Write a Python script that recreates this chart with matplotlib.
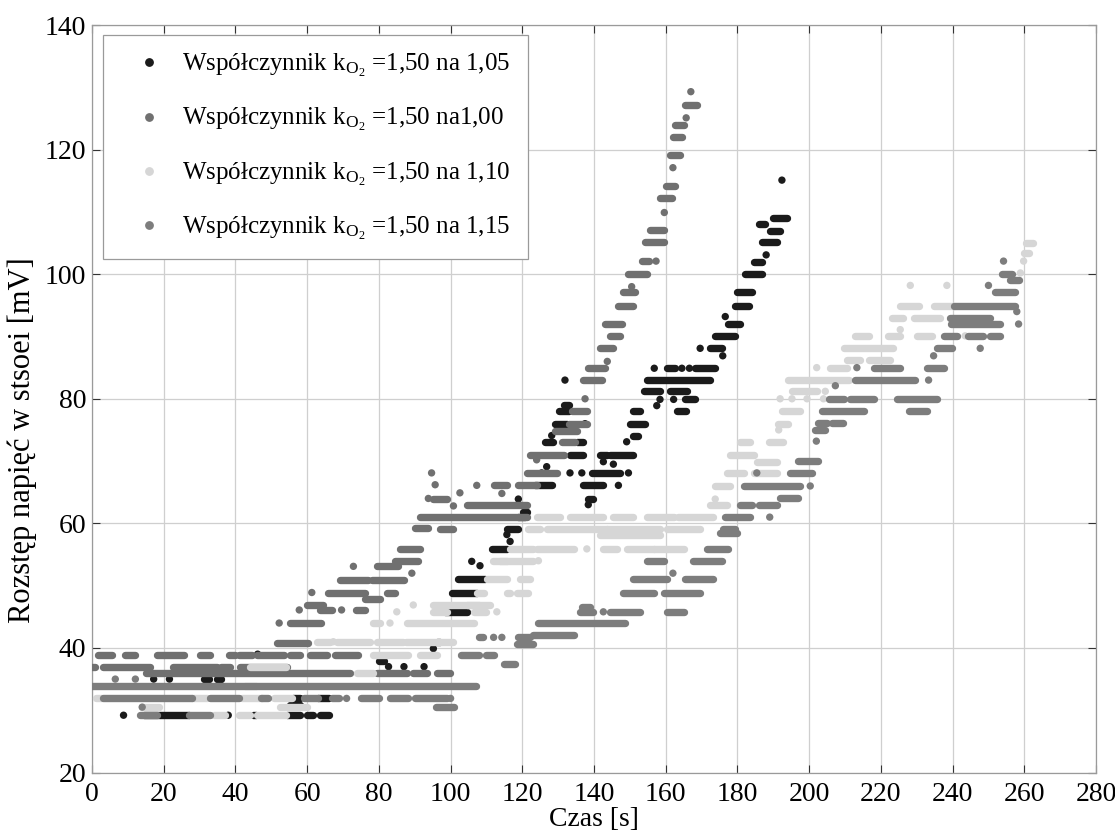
import matplotlib
matplotlib.use('Agg')
import matplotlib.pyplot as plt
from matplotlib.collections import LineCollection
from matplotlib.lines import Line2D

# ---------------- data: runs of consecutive samples (t_start [s], t_end [s], value [mV]) ----------------
series_names = ['Współczynnik $\\mathregular{k_{O_2}}$ =1,50 na 1,05',
                'Współczynnik $\\mathregular{k_{O_2}}$ =1,50 na1,00',
                'Współczynnik $\\mathregular{k_{O_2}}$ =1,50 na 1,10',
                'Współczynnik $\\mathregular{k_{O_2}}$ =1,50 na 1,15']

runs_105 = [
    (8.8, 8.8, 29.2), (14.5, 27, 29.2), (38, 38, 29.2), (44.8, 45.6, 29.2), (54.5, 58, 29.2),
    (59.9, 61.7, 29.2), (63.6, 66, 29.2), (55.2, 58, 30.8), (56, 58, 31.9), (63.1, 66, 31.9),
    (17.2, 17.2, 35.0), (21.6, 21.6, 35.0), (31.1, 32.5, 35.0), (35, 36, 35.0), (46.2, 46.2, 39.0),
    (79.9, 81.3, 37.9), (82.7, 82.7, 37.0), (87, 87, 37.0), (92.6, 92.6, 37.0),
    (95.2, 95.2, 39.9), (96.1, 97, 41.0), (98.5, 104.5, 45.8), (100.3, 107.3, 48.9),
    (102.2, 109.6, 51.1), (105.9, 105.9, 53.9), (108.2, 108.2, 53.2), (111.5, 115.7, 55.9),
    (116.6, 116.6, 57.1), (115.7, 115.7, 58.2), (115.7, 118.9, 59.1), (118.9, 120.8, 61.0),
    (120.3, 121.2, 61.9), (118.9, 118.9, 63.9), (123.6, 128.2, 66.1), (125.4, 125.4, 68.1),
    (126.8, 126.8, 69.1), (126.4, 128.7, 73.1), (128.2, 128.2, 74.1), (129.1, 132.4, 76.0),
    (130.1, 132.9, 78.0), (131.5, 132.9, 79.0), (131.9, 131.9, 83.0), (133.3, 137, 71.0),
    (135.2, 137, 73.1), (137.5, 137.5, 76.0), (133.3, 133.3, 68.1), (136.6, 136.6, 68.1),
    (136.9, 142.6, 66.1), (138.4, 139.8, 63.9), (138.4, 138.4, 63.0), (139.4, 147.3, 68.1),
    (141.7, 143.6, 71.0), (144.5, 151, 71.0), (142.6, 142.6, 69.9), (145.4, 145.4, 69.5),
    (146.8, 146.8, 66.1), (149.6, 149.6, 68.1), (149.1, 149.1, 73.1), (150.1, 154.3, 76.0),
    (151, 152.4, 74.1), (151, 152.9, 78.0), (153.8, 158.4, 81.2), (154.7, 172.4, 83.0),
    (156.8, 156.8, 84.9), (160.3, 162.6, 84.9), (164.5, 164.5, 84.9), (166.6, 166.6, 84.9),
    (168.2, 173.8, 84.9), (157.5, 157.5, 78.9), (158.4, 158.4, 79.9), (161.2, 165.9, 81.2),
    (162.2, 162.2, 79.9), (165.4, 168.2, 79.9), (163.1, 165.7, 78.0), (169.6, 169.6, 88.1),
    (172.4, 175.6, 88.1), (175.9, 175.9, 86.9), (173.8, 179.4, 90.1), (176.6, 176.6, 93.2),
    (177.5, 180.7, 92.0), (179.4, 183.1, 94.9), (179.8, 184, 97.1), (182.1, 186.8, 100.0),
    (184.5, 186.8, 102.0), (188, 188, 103.1), (186.8, 191, 105.1), (189.1, 191.9, 107.0),
    (185.9, 187.7, 108.1), (190, 193.8, 109.0), (192.4, 192.4, 115.1),
]

runs_100 = [
    (167.0, 167.0, 129.3), (165.4, 168.7, 127.2), (165.7, 165.7, 125.1), (162.7, 165.0, 124.0),
    (162.1, 164.5, 122.1), (161.2, 164.0, 119.2), (162.0, 162.0, 117.1), (160.0, 162.6, 114.1),
    (158.4, 161.7, 112.2), (159.6, 159.6, 109.9), (155.6, 159.4, 107.1), (154.3, 159.4, 105.1),
    (153.3, 155.2, 102.1), (157.3, 157.3, 102.1), (149.6, 154.7, 100.0), (148.1, 151.5, 97.2),
    (150.5, 150.5, 98.0), (146.8, 151, 94.9), (143.1, 147.7, 92.0), (144.5, 147.3, 90.1),
    (141.7, 145.4, 88.1), (143.7, 143.7, 86.0), (138.4, 143.1, 84.9), (137, 142.2, 83.0),
    (137.5, 137.5, 80.0), (133.8, 138, 78.0), (132.9, 138, 76.0), (131, 134.7, 73.1),
    (129.1, 135.2, 74.8), (122.2, 131.5, 71.0), (124, 124, 70.2), (121.2, 129.6, 68.1),
    (118.9, 124, 66.1), (112, 115.7, 66.1), (107.3, 107.3, 66.1), (102.6, 102.6, 64.9),
    (114.3, 114.3, 64.8), (95.2, 98.9, 63.9), (104.5, 121.2, 63.0), (91.5, 121.2, 61.0),
    (94.7, 94.7, 68.1), (95.7, 95.7, 66.2), (93.8, 93.8, 64.0), (90, 93.8, 59.2),
    (97, 100.8, 59.1), (100.8, 100.8, 62.8), (85.9, 91.5, 55.9), (84.5, 91, 53.9),
    (89.2, 89.2, 52.0), (72.9, 72.9, 53.1), (79.4, 85.4, 53.1), (69.2, 77.1, 50.9),
    (78, 87, 50.9), (65.9, 76.2, 48.9), (61.3, 61.3, 48.9), (82.2, 84.5, 48.9),
    (76.2, 80.3, 47.9), (59.9, 64.5, 46.9), (63.6, 66.8, 46.1), (57.8, 57.8, 46.1),
    (69.6, 69.6, 46.1), (73.5, 76.2, 46.1), (52.2, 52.2, 44.0), (55.2, 64, 44.0),
    (51.5, 60.3, 40.8),
    (1.7, 5.6, 38.9), (9.3, 12.1, 38.9), (18.1, 25.6, 38.9), (30.2, 33, 38.9), (38.1, 40, 38.9),
    (40.9, 44.6, 38.9), (46, 53.5, 38.9), (55.2, 58, 38.9), (60.8, 65.5, 38.9), (67.8, 74.3, 38.9),
    (0, 0.8, 37.0), (3.2, 16.2, 37.0), (22.7, 34.8, 37.0), (36, 38.5, 37.0), (41.3, 54.3, 37.0),
    (15.2, 72, 35.9), (79.4, 87.8, 35.9), (89.6, 93.3, 35.9), (96.1, 99.9, 35.9),
]

runs_110 = [
    (34, 37, 29.2), (41, 44, 29.2), (46, 54, 29.2), (14, 18.6, 30.6), (52.4, 60, 30.6),
    (1, 2.8, 31.9), (28, 32, 31.9), (41.8, 47.4, 31.9), (50.7, 55.8, 31.9), (42.8, 45.6, 33.9),
    (44, 54, 37.0), (73.8, 78.5, 35.9), (78.5, 88.1, 38.9), (91.5, 96.1, 38.9),
    (62.7, 66.4, 41.0), (67.3, 67.3, 41.0), (68.2, 77.5, 41.0), (79.4, 86.8, 41.0), (87.5, 100.8, 41.0),
    (78.5, 80.3, 44.0), (83.1, 83.1, 44.0), (87.8, 106.4, 44.0), (85, 85, 45.8), (95.2, 98.9, 45.8),
    (106.4, 110, 45.8), (112.9, 112.9, 45.8), (89.6, 89.6, 46.9), (95.2, 108, 46.9), (104.5, 111, 46.9),
    (107.3, 109.2, 48.9), (115.7, 116.6, 48.9), (118.5, 121.7, 48.9), (110.1, 115.7, 51.0),
    (119.4, 122.2, 51.0), (111.9, 115.7, 54.0), (113.8, 123.1, 54.0), (124.5, 124.5, 54.0),
    (116.6, 123.1, 55.9), (124, 134.3, 55.9), (138, 138, 55.9), (142.6, 146.4, 55.9),
    (149.1, 156.6, 55.9), (156.6, 165, 55.9), (141.7, 158.4, 58.2), (121.7, 125, 59.1),
    (126.8, 143.6, 59.1), (143.6, 158.4, 59.1), (160.3, 169.6, 59.1), (124, 130.5, 61.0),
    (133.3, 142.6, 61.0), (145.4, 151, 61.0), (154.7, 162.2, 61.0), (163.5, 173.3, 61.0),
    (172.4, 177, 63.0), (173.8, 173.8, 63.9), (173.8, 178, 66.0), (177, 181.7, 68.1),
    (184.5, 191, 68.1), (185.4, 191, 69.9), (178, 184.5, 71.0), (180.8, 183.5, 73.1),
    (188.7, 192.8, 73.1), (191.5, 191.5, 75.0), (191.4, 194.2, 76.0), (192.4, 197.5, 78.0),
    (191.9, 191.9, 80.0), (195.2, 195.2, 80.0), (199.4, 199.4, 80.0), (204, 204, 80.0),
    (195.2, 202.1, 81.2), (204.5, 204.5, 81.2), (194.2, 211, 83.0), (202.1, 202.1, 85.0),
    (205.9, 210.5, 85.0), (210.5, 214.2, 86.2), (216.6, 222.6, 86.2), (209.6, 223.5, 88.1),
    (212.8, 216.6, 90.1), (222.1, 225.4, 90.1), (230, 234.2, 90.1), (243.5, 243.5, 90.1),
    (225.4, 225.4, 91.1), (223.1, 226.3, 93.0), (229.1, 236.6, 93.0), (225.4, 230.5, 94.9),
    (234.7, 240.3, 94.9), (228.2, 228.2, 98.2), (238.4, 238.4, 98.2), (258.9, 258.9, 100.2),
    (259.8, 259.8, 102.1), (259.8, 261.2, 103.4), (260.5, 262.5, 105.0),
]

runs_115 = [
    (0, 107, 33.9), (3, 28, 31.9), (33, 41, 31.9), (47, 49, 31.9), (59, 63, 31.9), (67, 69, 31.9),
    (71, 71, 31.9), (75, 80, 31.9), (83, 88, 31.9), (90, 99, 31.9), (100, 100, 31.9),
    (14, 14, 30.5), (96, 101, 30.5), (13.5, 18, 29.2), (27, 33, 29.2), (6.5, 6.5, 35.0),
    (12.1, 12.1, 35.0), (103, 108, 38.9), (108, 109, 41.7), (112, 112, 41.7), (114.3, 114.3, 41.7),
    (118.9, 122.2, 41.7), (123.1, 134.3, 42.0), (118.5, 123.1, 40.7), (110, 112, 38.9),
    (115, 118, 37.5), (124.5, 148.7, 44.0), (136.1, 139.8, 45.8), (142.6, 142.6, 45.8),
    (144.5, 152.9, 45.8), (160.3, 165, 45.8), (136.6, 138.9, 46.5), (148.2, 156.6, 48.9),
    (159.4, 169.6, 48.9), (151, 160.3, 51.0), (165.4, 173.3, 51.0), (162.0, 162.0, 52.0),
    (154.7, 159.4, 53.9), (167.7, 175.6, 53.9), (171.4, 177.5, 55.9), (175.2, 179.8, 58.5),
    (176, 179.4, 59.1), (176.6, 183.5, 61.0), (189, 189, 61.0), (180.8, 184, 63.0),
    (185.9, 191, 63.0), (191.9, 197, 64.0), (181.7, 197.5, 66.0), (200.3, 200.3, 66.0),
    (185.4, 185.4, 68.1), (194.7, 200.7, 68.1), (197, 202.6, 70.0), (202, 202, 73.2),
    (201.7, 204.5, 75.0), (202.5, 205, 76.1), (206.5, 209.5, 76.1), (203.5, 215.2, 78.0),
    (227.7, 232.8, 78.0), (205.4, 209.6, 80.0), (211.4, 218, 80.0), (224.5, 235.6, 80.0),
    (207.3, 207.3, 82.1), (212.8, 229.6, 83.0), (233.3, 233.3, 83.0), (213.3, 213.3, 85.0),
    (218, 225.4, 85.0), (232.8, 237.5, 85.0), (234.7, 234.7, 86.9), (235.6, 239.8, 88.1),
    (247.7, 247.7, 88.1), (237.5, 241.2, 90.1), (244.4, 248.6, 90.1), (250.5, 253.3, 90.1),
    (239.5, 253.3, 92.0), (258.4, 258.4, 92.0), (239.3, 250.5, 93.0), (257.9, 257.9, 94.0),
    (240.3, 257.5, 94.9), (251.9, 257.5, 97.1), (250, 250, 98.2), (256.1, 258.4, 99.1),
    (253.7, 256.5, 100.1), (254.2, 254.2, 102.1),
]

series_runs = [runs_105, runs_100, runs_110, runs_115]
series_colors = ['#1b1b1b', '#707070', '#d6d6d6', '#7d7d7d']

x_ticks = list(range(0, 281, 20))
y_ticks = list(range(20, 141, 20))

# ---------------- style ----------------
plt.rcParams['font.family'] = ['Liberation Serif', 'DejaVu Serif']
plt.rcParams['mathtext.fontset'] = 'custom'
plt.rcParams['mathtext.rm'] = 'Liberation Serif'

DOT_PT = 5.3  # marker diameter in points

fig = plt.figure(figsize=(11.15, 8.34), dpi=100)
ax = fig.add_axes([0.0825, 0.0737, 0.9005, 0.8963])

for z, (runs, col) in enumerate(zip(series_runs, series_colors)):
    segs = [[(a, v), (b, v)] for a, b, v in runs if b > a]
    lc = LineCollection(segs, colors=col, linewidths=DOT_PT, capstyle='round', zorder=3 + z)
    ax.add_collection(lc)
    pts = [(a, v) for a, b, v in runs if b <= a]
    ax.scatter([p[0] for p in pts], [p[1] for p in pts], s=DOT_PT ** 2, c=col,
               edgecolors='none', zorder=3 + z)

ax.set_xlim(0, 280)
ax.set_ylim(20, 140)
ax.set_xticks(x_ticks)
ax.set_yticks(y_ticks)
ax.grid(True, color='#cfcfcf', linewidth=0.9)
ax.set_axisbelow(True)
ax.tick_params(direction='in', length=6, width=0.8, color='#333333', top=True, right=True,
               labelsize=20)
ax.tick_params(axis='x', pad=7)
ax.tick_params(axis='y', pad=4)
for s in ax.spines.values():
    s.set_color('#9a9a9a')
    s.set_linewidth(0.9)

ax.set_xlabel('Czas [s]', fontsize=20, labelpad=0)
ax.set_ylabel('Rozstęp napięć w stsoei [mV]', fontsize=22)
ax.yaxis.set_label_coords(-0.055, 0.445)

handles = [Line2D([], [], ls='none', marker='o', ms=DOT_PT, color=c) for c in series_colors]
leg = ax.legend(handles, series_names, loc='upper left', bbox_to_anchor=(0.011, 0.987),
                borderaxespad=0, fontsize=18, frameon=True, fancybox=False,
                edgecolor='#9a9a9a', framealpha=1, handlelength=2.3, handletextpad=0.15,
                labelspacing=1.08, borderpad=0.7)
leg.get_frame().set_linewidth(0.9)

fig.savefig('out.png', dpi=100)
